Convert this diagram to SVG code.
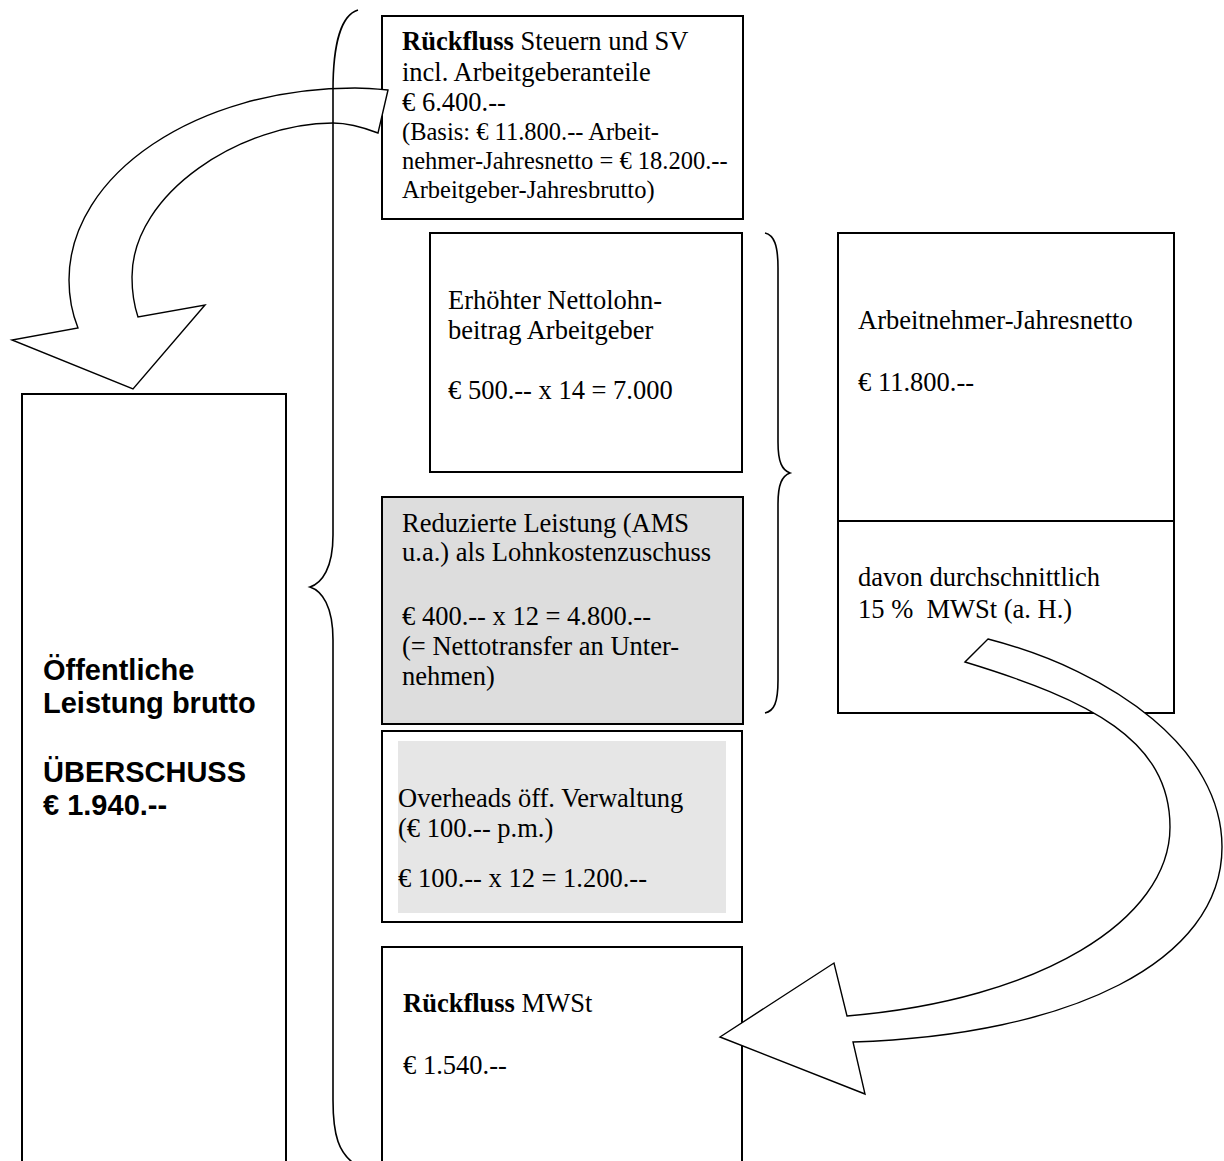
<svg xmlns="http://www.w3.org/2000/svg" width="1224" height="1161" viewBox="0 0 1224 1161">
<style>
.box{fill:#fff;stroke:#000;stroke-width:2}
.gray{fill:#dddddd;stroke:#000;stroke-width:2}
.t{font-family:"Liberation Serif","Times New Roman",serif;font-size:26.5px;fill:#000}
.s{font-size:24.5px}
.b{font-weight:bold}
.h{font-family:"Liberation Sans",Arial,sans-serif;font-size:29px;font-weight:bold;fill:#000}
.arrow{fill:#fff;stroke:#000;stroke-width:1.4;stroke-linejoin:miter}
.brace{fill:none;stroke:#000;stroke-width:1.6}
</style>
<rect width="1224" height="1161" fill="#fff"/>

<g id="oeffentliche-leistung">
<rect class="box" x="22" y="394" width="264" height="800"/>
<text class="h" x="43" y="680">Öffentliche</text>
<text class="h" x="43" y="713">Leistung brutto</text>
<text class="h" x="43" y="782">ÜBERSCHUSS</text>
<text class="h" x="43" y="815">€ 1.940.--</text>
</g>

<g id="rueckfluss-steuern">
<rect class="box" x="382" y="16" width="361" height="203"/>
<text class="t" x="402" y="50"><tspan class="b">Rückfluss</tspan> Steuern und SV</text>
<text class="t" x="402" y="80.5">incl. Arbeitgeberanteile</text>
<text class="t" x="402" y="111">€ 6.400.--</text>
<text class="t s" x="402" y="140">(Basis: € 11.800.-- Arbeit-</text>
<text class="t s" x="402" y="169">nehmer-Jahresnetto = € 18.200.--</text>
<text class="t s" x="402" y="197.5">Arbeitgeber-Jahresbrutto)</text>
</g>

<g id="nettolohnbeitrag">
<rect class="box" x="430" y="233" width="312" height="239"/>
<text class="t" x="448" y="309">Erhöhter Nettolohn-</text>
<text class="t" x="448" y="339">beitrag Arbeitgeber</text>
<text class="t" x="448" y="399">€ 500.-- x 14 = 7.000</text>
</g>

<g id="reduzierte-leistung">
<rect class="gray" x="382" y="497" width="361" height="227"/>
<text class="t" x="402" y="531.5">Reduzierte Leistung (AMS</text>
<text class="t" x="402" y="561">u.a.) als Lohnkostenzuschuss</text>
<text class="t" x="402" y="625">€ 400.-- x 12 = 4.800.--</text>
<text class="t" x="402" y="655">(= Nettotransfer an Unter-</text>
<text class="t" x="402" y="685">nehmen)</text>
</g>

<g id="overheads">
<rect class="box" x="382" y="731" width="360" height="191"/>
<rect x="398" y="741" width="328" height="172" fill="#e6e6e6"/>
<text class="t" x="398" y="807">Overheads öff. Verwaltung</text>
<text class="t" x="398" y="837">(€ 100.-- p.m.)</text>
<text class="t" x="398" y="887">€ 100.-- x 12 = 1.200.--</text>
</g>

<g id="rueckfluss-mwst">
<rect class="box" x="382" y="947" width="360" height="300"/>
<text class="t" x="403" y="1011.5"><tspan class="b">Rückfluss</tspan> MWSt</text>
<text class="t" x="403" y="1074">€ 1.540.--</text>
</g>

<g id="arbeitnehmer-jahresnetto">
<rect class="box" x="838" y="233" width="336" height="480"/>
<line x1="838" y1="521" x2="1174" y2="521" stroke="#000" stroke-width="2"/>
<text class="t" x="858" y="329">Arbeitnehmer-Jahresnetto</text>
<text class="t" x="858" y="390.5">€ 11.800.--</text>
<text class="t" x="858" y="585.5">davon durchschnittlich</text>
<text class="t" x="858" y="618" style="white-space:pre">15 %  MWSt (a. H.)</text>
</g>

<g id="connectors">
<path id="arrow-steuern" class="arrow" d="M 388,90 C 372,88.5 362,88 355,88 C 197,88 69,174 69,280 C 69,298 72,313 78,328 L 12,340 L 133,389 L 205,305 L 138,317 C 134,305 132,292 132,277 C 132,192 243,123 333,123 C 350,123 365,128 378,133 Z"/>
<path id="arrow-mwst" class="arrow" d="M 988,639 C 1115,672 1222,750 1222,847 C 1222,962 1070,1035 853,1042 L 865,1094 L 720,1037 L 834,963 L 847,1016 C 1040,1000 1170,920 1170,827 C 1170,740 1090,700 965,662 Z"/>
<path id="brace-left" class="brace" d="M 358,10 C 341,15 333,45 333,90 L 333,535 C 333,568 322,583 310,587 C 322,591 333,606 333,640 L 333,1100 C 333,1138 340,1152 352,1162"/>
<path id="brace-right" class="brace" d="M 765,233 C 774,235 778,245 778,268 L 778,442 C 778,462 782,470 790,473 C 782,476 778,484 778,504 L 778,680 C 778,703 774,711 765,713"/>
</g>
</svg>
